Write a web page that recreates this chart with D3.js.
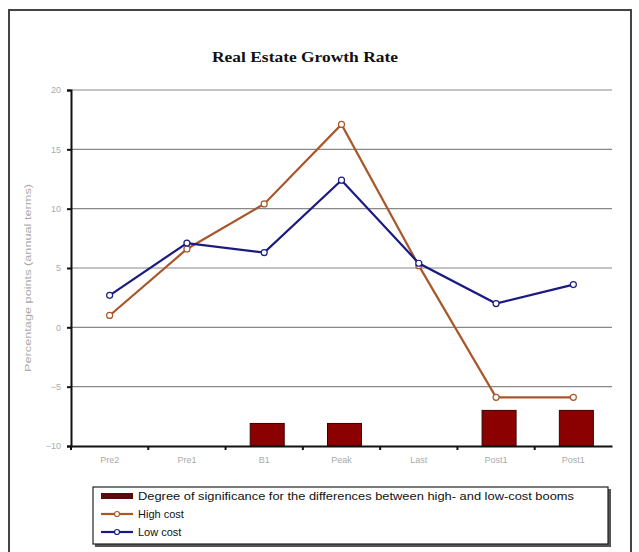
<!DOCTYPE html>
<html>
<head>
  <meta charset="utf-8">
  <title>Real Estate Growth Rate</title>
  <style>
    body { margin: 0; background: #fff; }
    text { font-family: "Liberation Sans", Arial, sans-serif; }
  </style>
</head>
<body>
  <div id="chart"></div>
  <script src="https://cdn.jsdelivr.net/npm/d3@7"></script>
  <script type="text/javascript">
    var categories = ["Pre2", "Pre1", "B1", "Peak", "Last", "Post1", "Post1"];
    var highCost = [1.0, 6.6, 10.4, 17.1, 5.2, -5.9, -5.9];
    var lowCost = [2.7, 7.1, 6.3, 12.4, 5.4, 2.0, 3.6];
    // significance bars, drawn up from the -10 base (null = no bar)
    var significance = [null, null, -8.1, -8.1, null, -7.0, -7.0];
    var yTicks = [-10, -5, 0, 5, 10, 15, 20];

    var w = 639;
    var h = 552;

    var svg = d3.select("#chart")
      .append("svg")
      .attr("width", w)
      .attr("height", h);

    // outer frame
    svg.append("rect")
      .attr("x", 9).attr("y", 10)
      .attr("width", 622).attr("height", 560)
      .attr("fill", "none")
      .attr("stroke", "#444")
      .attr("stroke-width", 2);

    svg.append("text")
      .attr("x", 305).attr("y", 62)
      .attr("text-anchor", "middle")
      .style("font-family", "'Liberation Serif', 'DejaVu Serif', serif")
      .style("font-size", "15px")
      .style("font-weight", "bold")
      .attr("textLength", 186)
      .attr("lengthAdjust", "spacingAndGlyphs")
      .attr("fill", "#111")
      .text("Real Estate Growth Rate");

    var x = d3.scaleBand()
      .domain(d3.range(categories.length))
      .range([71, 612]);

    var y = d3.scaleLinear()
      .domain([-10, 20])
      .range([446, 90]);

    // gridlines
    svg.selectAll("line.grid")
      .data(yTicks.filter(function(d) { return d > -10; }))
      .enter()
      .append("line")
      .attr("class", "grid")
      .attr("x1", 71).attr("x2", 612)
      .attr("y1", function(d) { return y(d); })
      .attr("y2", function(d) { return y(d); })
      .attr("stroke", "#888")
      .attr("stroke-width", 1.2);

    // bars
    svg.selectAll("rect.bar")
      .data(significance.map(function(v, i) { return { v: v, i: i }; }).filter(function(d) { return d.v !== null; }))
      .enter()
      .append("rect")
      .attr("class", "bar")
      .attr("x", function(d) { return x(d.i) + x.bandwidth() / 2 - 17 + 3; })
      .attr("width", 34)
      .attr("y", function(d) { return y(d.v); })
      .attr("height", function(d) { return y(-10) - y(d.v); })
      .attr("fill", "#8b0000")
      .attr("stroke", "#3a0000")
      .attr("stroke-width", 1);

    // y axis
    var yAxis = d3.axisLeft(y).tickValues(yTicks).tickSize(4).tickPadding(6);
    var gy = svg.append("g").attr("transform", "translate(71,0)").call(yAxis);
    gy.select(".domain").attr("stroke", "#111").attr("stroke-width", 2);
    gy.selectAll(".tick line").attr("stroke", "#111").attr("stroke-width", 2);
    gy.selectAll(".tick text")
      .attr("fill", "#aaa")
      .style("font-size", "9px")
      .style("font-family", "'Liberation Sans', Arial, sans-serif");

    // x axis
    var xAxis = d3.axisBottom(x).tickFormat(function(i) { return categories[i]; }).tickSize(0).tickPadding(11);
    var gx = svg.append("g").attr("transform", "translate(0," + y(-10) + ")").call(xAxis);
    gx.select(".domain").attr("stroke", "#111").attr("stroke-width", 2);
    gx.selectAll(".tick text")
      .attr("fill", "#aaa")
      .style("font-size", "9px")
      .style("font-family", "'Liberation Sans', Arial, sans-serif");
    gx.selectAll("line.sep")
      .data(d3.range(0, categories.length))
      .enter()
      .append("line")
      .attr("class", "sep")
      .attr("x1", function(i) { return x(i); })
      .attr("x2", function(i) { return x(i); })
      .attr("y1", 0).attr("y2", 4)
      .attr("stroke", "#111")
      .attr("stroke-width", 2);

    svg.append("text")
      .attr("transform", "translate(31,278) rotate(-90)")
      .attr("text-anchor", "middle")
      .attr("fill", "#aaa")
      .style("font-size", "9px")
      .attr("textLength", 188)
      .attr("lengthAdjust", "spacingAndGlyphs")
      .text("Percentage points (annual terms)");

    var line = d3.line()
      .x(function(d, i) { return x(i) + x.bandwidth() / 2; })
      .y(function(d) { return y(d); });

    function drawSeries(values, color) {
      svg.append("path")
        .datum(values)
        .attr("d", line)
        .attr("fill", "none")
        .attr("stroke", color)
        .attr("stroke-width", 2.2);
      svg.selectAll(null)
        .data(values)
        .enter()
        .append("circle")
        .attr("cx", function(d, i) { return x(i) + x.bandwidth() / 2; })
        .attr("cy", function(d) { return y(d); })
        .attr("r", 3)
        .attr("fill", "#fff")
        .attr("stroke", color)
        .attr("stroke-width", 1.2);
    }

    drawSeries(highCost, "#a8572a");
    drawSeries(lowCost, "#1a1a80");

    // legend
    svg.append("rect")
      .attr("x", 95).attr("y", 489)
      .attr("width", 516).attr("height", 58)
      .attr("fill", "#555");
    svg.append("rect")
      .attr("x", 93).attr("y", 487)
      .attr("width", 515).attr("height", 57)
      .attr("fill", "#fff")
      .attr("stroke", "#222")
      .attr("stroke-width", 1.2);

    var legendItems = [
      { label: "Degree of significance for the differences between high- and low-cost booms", type: "bar", color: "#5a0a0a" },
      { label: "High cost", type: "line", color: "#a8572a" },
      { label: "Low cost", type: "line", color: "#1a1a80" }
    ];

    var lg = svg.selectAll("g.legend")
      .data(legendItems)
      .enter()
      .append("g")
      .attr("class", "legend")
      .attr("transform", function(d, i) { return "translate(101," + (496 + i * 18) + ")"; });

    lg.filter(function(d) { return d.type === "bar"; })
      .append("rect")
      .attr("x", 0).attr("y", -3)
      .attr("width", 32).attr("height", 6)
      .attr("fill", function(d) { return d.color; });

    lg.filter(function(d) { return d.type === "line"; })
      .append("line")
      .attr("x1", 0).attr("x2", 32)
      .attr("y1", 0).attr("y2", 0)
      .attr("stroke", function(d) { return d.color; })
      .attr("stroke-width", 2.2);

    lg.filter(function(d) { return d.type === "line"; })
      .append("circle")
      .attr("cx", 16).attr("cy", 0).attr("r", 2.5)
      .attr("fill", "#fff")
      .attr("stroke", function(d) { return d.color; })
      .attr("stroke-width", 1.2);

    lg.append("text")
      .attr("x", 37).attr("y", 4)
      .attr("fill", "#111")
      .style("font-size", "11px")
      .attr("textLength", function(d) { return d.type === "bar" ? 436 : null; })
      .attr("lengthAdjust", "spacingAndGlyphs")
      .text(function(d) { return d.label; });
  </script>
</body>
</html>
